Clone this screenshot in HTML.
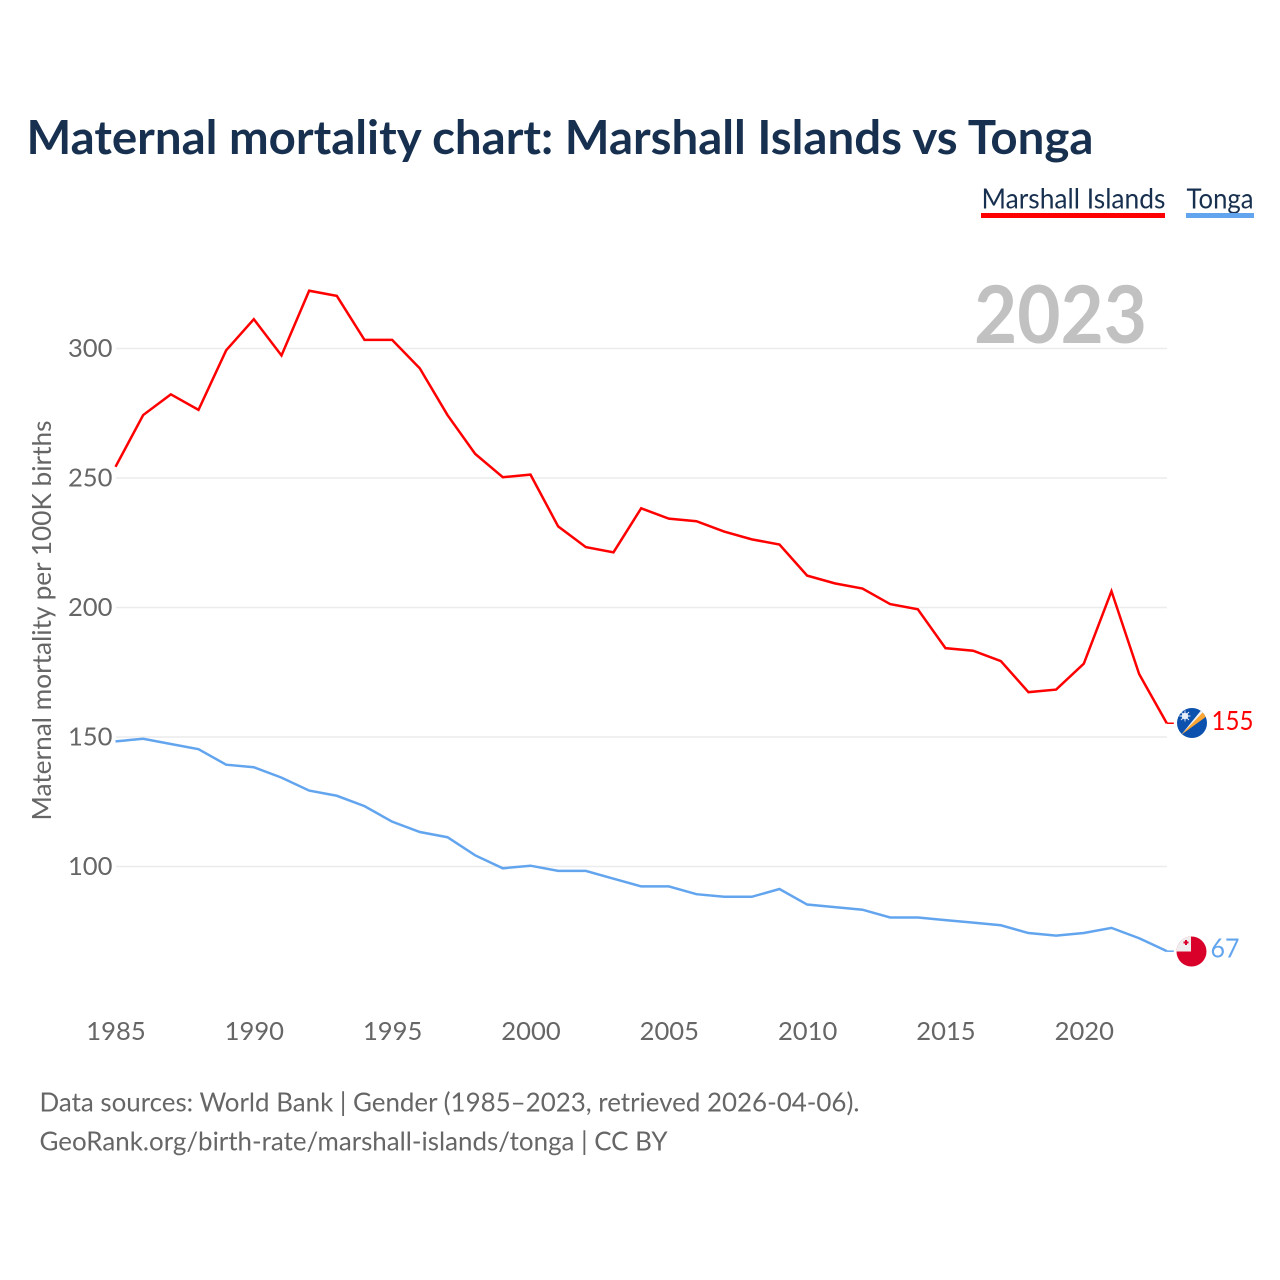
<!DOCTYPE html>
<html lang="en">
<head>
<meta charset="utf-8">
<title>Maternal mortality chart: Marshall Islands vs Tonga</title>
<style>
html,body{margin:0;padding:0;background:#fff;width:1280px;height:1280px;overflow:hidden}
svg{display:block}
text{font-family:"Lato","Carlito","Liberation Sans",sans-serif}
</style>
</head>
<body>
<svg id="chart" xmlns="http://www.w3.org/2000/svg" width="1280" height="1280" viewBox="0 0 1280 1280">
  <rect width="1280" height="1280" fill="#fff"/>
  <text x="26.5" y="154" font-size="47" font-weight="700" fill="#18304f" textLength="1067" lengthAdjust="spacingAndGlyphs">Maternal mortality chart: Marshall Islands vs Tonga</text>

  <g>
    <g>
      <text x="981.5" y="208.5" font-size="28.5" fill="#18304f" textLength="184" lengthAdjust="spacingAndGlyphs">Marshall Islands</text>
      <rect x="981" y="213" width="184" height="5" fill="#ff0000"/>
    </g>
    <g>
      <text x="1186.5" y="208.5" font-size="28.5" fill="#18304f" textLength="67" lengthAdjust="spacingAndGlyphs">Tonga</text>
      <rect x="1186" y="213" width="68" height="5" fill="#62a5ee"/>
    </g>
  </g>

  <g id="grid"></g>

  <text x="974" y="343" font-size="80" font-weight="700" fill="#c1c1c1" textLength="173" lengthAdjust="spacingAndGlyphs">2023</text>

  <g id="yticks"></g>
  <g id="xticks"></g>

  <text transform="translate(51,820.5) rotate(-90)" font-size="26.5" fill="#666" textLength="400" lengthAdjust="spacingAndGlyphs">Maternal mortality per 100K births</text>

  <g id="series"></g>

  <g>
    <clipPath id="clip-mh"><circle cx="1192" cy="723" r="15"/></clipPath>
    <g clip-path="url(#clip-mh)">
      <rect x="1177" y="708" width="30" height="30" fill="#0b51ad"/>
      <polygon points="1181,735 1203,708 1204,712" fill="#f2f2f2"/>
      <polygon points="1181,735 1204,711 1207,716" fill="#fba634"/>
      <circle cx="1185" cy="716" r="3.3" fill="#e6edf7"/>
      <path d="M1185 710.5V721.5M1179.5 716H1190.5M1181 712L1189 720M1189 712L1181 720" stroke="#e6edf7" stroke-width="0.9"/>
    </g>
  </g>
  <text x="1211.5" y="730" font-size="26.5" fill="#ff0000" textLength="42" lengthAdjust="spacingAndGlyphs">155</text>

  <g>
    <clipPath id="clip-to"><circle cx="1191.5" cy="951.5" r="15"/></clipPath>
    <g clip-path="url(#clip-to)">
      <rect x="1176" y="936" width="31" height="31" fill="#d9002a"/>
      <rect x="1176" y="936" width="15" height="15.5" fill="#eeeeee"/>
      <path d="M1183.5 942.5H1188.5M1186 940V945" stroke="#d9002a" stroke-width="2"/>
    </g>
  </g>
  <text x="1210.5" y="957.5" font-size="26.5" fill="#62a5ee" textLength="29" lengthAdjust="spacingAndGlyphs">67</text>

  <g>
    <text x="39.5" y="1111.5" font-size="26.5" fill="#666" textLength="820" lengthAdjust="spacingAndGlyphs">Data sources: World Bank | Gender (1985–2023, retrieved 2026-04-06).</text>
    <text x="39.5" y="1150.5" font-size="26.5" fill="#666" textLength="628" lengthAdjust="spacingAndGlyphs">GeoRank.org/birth-rate/marshall-islands/tonga | CC BY</text>
  </g>
</svg>
<script>
const years = [1985,1986,1987,1988,1989,1990,1991,1992,1993,1994,1995,1996,1997,1998,1999,2000,2001,2002,2003,2004,2005,2006,2007,2008,2009,2010,2011,2012,2013,2014,2015,2016,2017,2018,2019,2020,2021,2022,2023];
const marshallIslands = [254,274,282,276,299,311,297,322,320,303,303,292,274,259,250,251,231,223,221,238,234,233,229,226,224,212,209,207,201,199,184,183,179,167,168,178,206,174,155];
const tonga = [148,149,147,145,139,138,134,129,127,123,117,113,111,104,99,100,98,98,95,92,92,89,88,88,91,85,84,83,80,80,79,78,77,74,73,74,76,72,67];
const yTickValues = [100,150,200,250,300];
const xTickValues = [1985,1990,1995,2000,2005,2010,2015,2020];

const NS = 'http://www.w3.org/2000/svg';
const xScale = function (year) { return 115.5 + (year - 1985) * (1166.8 - 115.5) / 38; };
const yScale = function (v) { return 866.5 - (v - 100) * (866.5 - 348.5) / 200; };
const lineY = function (v) { return yScale(v) - 0.8; };

function make(tag, parent) {
  const el = document.createElementNS(NS, tag);
  parent.appendChild(el);
  return el;
}

const grid = document.getElementById('grid');
const yticks = document.getElementById('yticks');
const xticks = document.getElementById('xticks');
const series = document.getElementById('series');

yTickValues.forEach(function (v) {
  const line = make('line', grid);
  
  
  line.setAttribute('x1', 116);
  line.setAttribute('x2', 1167);
  line.setAttribute('y1', yScale(v));
  line.setAttribute('y2', yScale(v));
  line.setAttribute('stroke', '#ececec');
  line.setAttribute('stroke-width', 1.5);

  const label = make('text', yticks);
  
  
  label.setAttribute('x', 112.5);
  label.setAttribute('y', yScale(v) + 8.5);
  label.setAttribute('text-anchor', 'end');
  label.setAttribute('font-size', 25.6);
  label.setAttribute('fill', '#666');
  label.textContent = v;
});

xTickValues.forEach(function (year) {
  const label = make('text', xticks);
  
  
  label.setAttribute('x', xScale(year) + 0.5);
  label.setAttribute('y', 1040);
  label.setAttribute('text-anchor', 'middle');
  label.setAttribute('font-size', 25.6);
  label.setAttribute('fill', '#666');
  label.textContent = year;
});

function drawSeries(name, values, color) {
  const pts = values.map(function (v, i) { return xScale(years[i]).toFixed(2) + ',' + lineY(v).toFixed(2); });
  const line = make('polyline', series);
  
  
  line.setAttribute('points', pts.join(' '));
  line.setAttribute('fill', 'none');
  line.setAttribute('stroke', color);
  line.setAttribute('stroke-width', 2.5);
  line.setAttribute('stroke-linejoin', 'miter');

  const last = values[values.length - 1];
  const stub = make('line', series);
  
  
  stub.setAttribute('x1', xScale(years[years.length - 1]));
  stub.setAttribute('x2', xScale(years[years.length - 1]) + 7);
  stub.setAttribute('y1', lineY(last));
  stub.setAttribute('y2', lineY(last));
  stub.setAttribute('stroke', color);
  stub.setAttribute('stroke-width', 1.5);
}

drawSeries('tonga', tonga, '#62a5ee');
drawSeries('marshall-islands', marshallIslands, '#ff0000');
</script>
</body>
</html>
